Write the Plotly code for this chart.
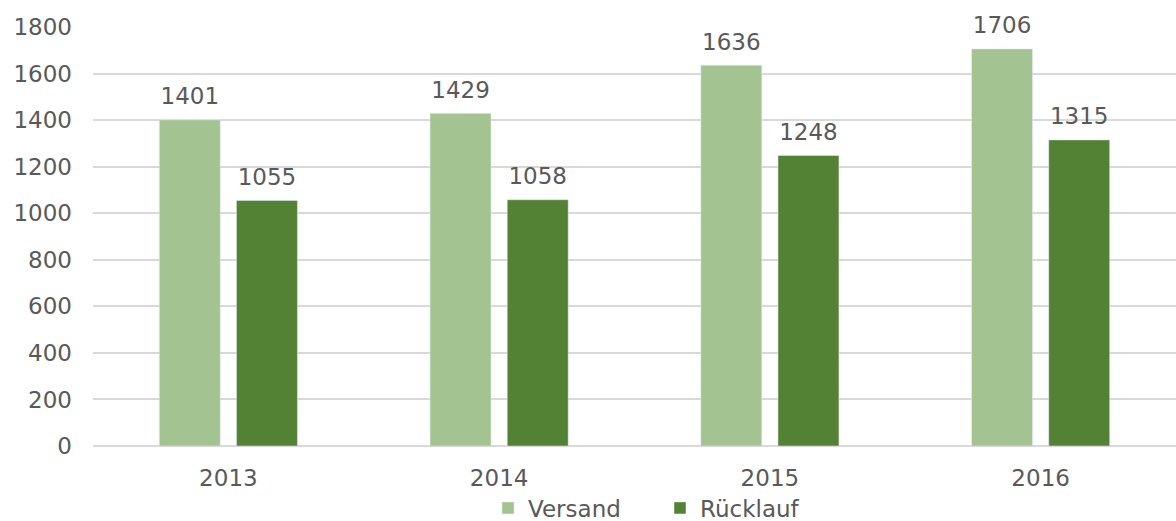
import plotly.graph_objects as go

years = ["2013", "2014", "2015", "2016"]
versand = [1401, 1429, 1636, 1706]
ruecklauf = [1055, 1058, 1248, 1315]

FONT = "Verdana, DejaVu Sans, sans-serif"
GRAY = "#595959"
FS = 23

fig = go.Figure()
for name, vals, col, grp in [("Versand", versand, "#A3C490", "a"),
                             ("Rücklauf", ruecklauf, "#548235", "b")]:
    fig.add_trace(go.Bar(x=years, y=vals, name=name, marker_color=col,
                         offsetgroup=grp, alignmentgroup="g"))
for name, vals, grp in [("Versand", versand, "a"), ("Rücklauf", ruecklauf, "b")]:
    fig.add_trace(go.Scatter(x=years, y=vals, mode="markers+text", text=[str(v) for v in vals],
                             textposition="top center", offsetgroup=grp, alignmentgroup="g",
                             marker=dict(size=14, opacity=0), showlegend=False, hoverinfo="skip",
                             cliponaxis=False,
                             textfont=dict(size=FS, color=GRAY, family=FONT)))

fig.update_layout(
    width=1176, height=521,
    margin=dict(l=93, r=0, t=27, b=75, autoexpand=False),
    paper_bgcolor="white", plot_bgcolor="white",
    font=dict(family=FONT, size=FS, color=GRAY),
    barmode="group", bargap=0.43, bargroupgap=0.21,
    scattermode="group", scattergap=0.43,
    showlegend=True,
    legend=dict(orientation="h", xref="container", yref="container",
                x=488 / 1176, xanchor="left", y=(521 - 508) / 521, yanchor="middle",
                font=dict(size=FS, color=GRAY, family=FONT),
                entrywidth=127, entrywidthmode="pixels",
                bgcolor="rgba(0,0,0,0)",
                traceorder="normal"),
)
fig.update_yaxes(range=[0, 1800], dtick=200, showgrid=True, gridcolor="#D9D9D9",
                 gridwidth=1.5, zeroline=True, zerolinecolor="#D9D9D9", zerolinewidth=1.5,
                 ticks="", ticklabelstandoff=20, tickfont=dict(size=FS, color=GRAY),
                 automargin=False)
fig.update_xaxes(showgrid=False, showline=False, ticks="", tickfont=dict(size=FS, color=GRAY),
                 ticklabelstandoff=16, automargin=False)

fig.write_html("out.html")
